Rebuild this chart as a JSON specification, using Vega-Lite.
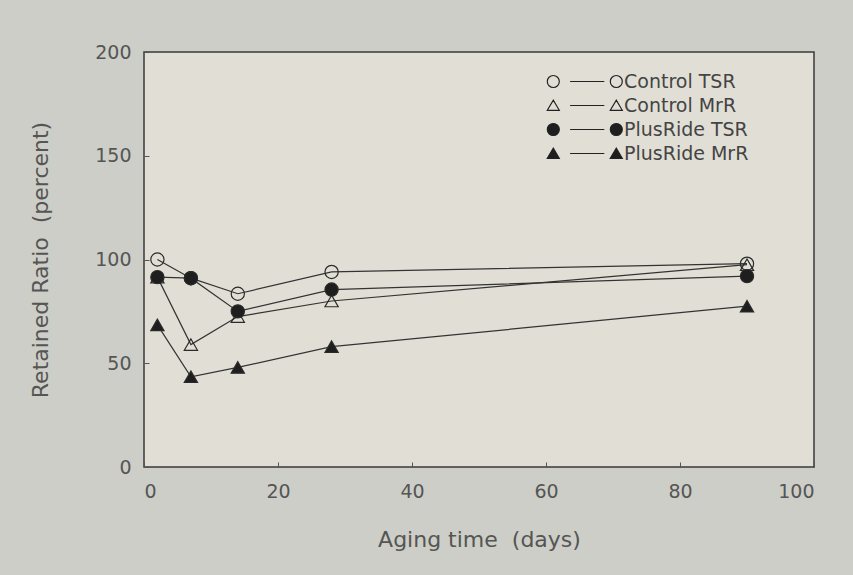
{
  "$schema": "https://vega.github.io/schema/vega-lite/v6.json",
  "width": 670,
  "height": 415,
  "autosize": {"type": "none"},
  "padding": {"left": 144, "top": 52, "right": 39, "bottom": 108},
  "background": "#cdcec7",
  "config": {
    "view": {"fill": "#e1dfd5", "stroke": "#3a3a3a", "strokeWidth": 1.5},
    "font": "DejaVu Sans",
    "axis": {
      "grid": false,
      "domain": false,
      "ticks": true,
      "tickSize": -5,
      "tickColor": "#555",
      "labelFont": "DejaVu Sans",
      "labelFontSize": 19,
      "labelColor": "#555",
      "titleFont": "DejaVu Sans",
      "titleFontSize": 22,
      "titleFontWeight": "normal",
      "titleColor": "#555"
    },
    "legend": {
      "title": null,
      "orient": "none",
      "legendX": 431,
      "legendY": 20,
      "labelFont": "DejaVu Sans",
      "labelFontSize": 19,
      "labelColor": "#444",
      "labelOffset": 30,
      "rowPadding": 4,
      "symbolSize": 144,
      "symbolStrokeWidth": 1.2,
      "symbolOpacity": 1
    }
  },
  "data": {
    "values": [
      {"series": "Control TSR", "day": 2, "value": 100},
      {"series": "Control TSR", "day": 7, "value": 91},
      {"series": "Control TSR", "day": 14, "value": 83.5},
      {"series": "Control TSR", "day": 28, "value": 94},
      {"series": "Control TSR", "day": 90, "value": 98},
      {"series": "Control MrR", "day": 2, "value": 91.5},
      {"series": "Control MrR", "day": 7, "value": 59},
      {"series": "Control MrR", "day": 14, "value": 72.5},
      {"series": "Control MrR", "day": 28, "value": 80},
      {"series": "Control MrR", "day": 90, "value": 97.5},
      {"series": "PlusRide TSR", "day": 2, "value": 91.5},
      {"series": "PlusRide TSR", "day": 7, "value": 91},
      {"series": "PlusRide TSR", "day": 14, "value": 75},
      {"series": "PlusRide TSR", "day": 28, "value": 85.5},
      {"series": "PlusRide TSR", "day": 90, "value": 92},
      {"series": "PlusRide MrR", "day": 2, "value": 68.5},
      {"series": "PlusRide MrR", "day": 7, "value": 43.5},
      {"series": "PlusRide MrR", "day": 14, "value": 48},
      {"series": "PlusRide MrR", "day": 28, "value": 58},
      {"series": "PlusRide MrR", "day": 90, "value": 77.5}
    ]
  },
  "encoding": {
    "x": {
      "field": "day", "type": "quantitative",
      "scale": {"domain": [0, 100], "nice": false, "zero": false},
      "axis": {"values": [0, 20, 40, 60, 80, 100], "labelPadding": 20, "title": "Aging time\u00a0 (days)", "titlePadding": 28}
    },
    "y": {
      "field": "value", "type": "quantitative",
      "scale": {"domain": [0, 200], "nice": false},
      "axis": {"values": [0, 50, 100, 150, 200], "labelPadding": 18, "title": "Retained Ratio\u00a0 (percent)", "titlePadding": 42}
    }
  },
  "layer": [
    {
      "mark": {"type": "line", "color": "#333", "strokeWidth": 1.2},
      "encoding": {"detail": {"field": "series"}}
    },
    {
      "mark": {"type": "point", "size": 175, "strokeWidth": 1.2, "opacity": 1},
      "encoding": {
        "shape": {
          "field": "series", "type": "nominal",
          "scale": {"domain": ["Control TSR", "Control MrR", "PlusRide TSR", "PlusRide MrR"], "range": ["circle", "triangle-up", "circle", "triangle-up"]},
          "legend": null
        },
        "fill": {
          "field": "series", "type": "nominal",
          "scale": {"domain": ["Control TSR", "Control MrR", "PlusRide TSR", "PlusRide MrR"], "range": ["transparent", "transparent", "#1e1e1e", "#1e1e1e"]},
          "legend": null
        },
        "stroke": {"value": "#2a2a2a"}
      }
    },
    {
      "transform": [{"filter": "datum.day < 0"}],
      "mark": {"type": "point", "size": 144, "strokeWidth": 1.2, "opacity": 1},
      "encoding": {
        "shape": {
          "field": "series", "type": "nominal",
          "scale": {
            "domain": ["Control TSR", "Control MrR", "PlusRide TSR", "PlusRide MrR"],
            "range": [
              "M-6.2,0 A1,1 0 1,0 -4.2,0 A1,1 0 1,0 -6.2,0 M-2.4,0 L3.3,0 M4.3,0 A1,1 0 1,0 6.3,0 A1,1 0 1,0 4.3,0",
              "M-6.2,0.8 L-5.2,-0.9 L-4.2,0.8 Z M-2.4,0 L3.3,0 M4.3,0.8 L5.3,-0.9 L6.3,0.8 Z",
              "M-6.2,0 A1,1 0 1,0 -4.2,0 A1,1 0 1,0 -6.2,0 M-2.4,0 L3.3,0 M4.3,0 A1,1 0 1,0 6.3,0 A1,1 0 1,0 4.3,0",
              "M-6.2,0.8 L-5.2,-0.9 L-4.2,0.8 Z M-2.4,0 L3.3,0 M4.3,0.8 L5.3,-0.9 L6.3,0.8 Z"
            ]
          },
          "legend": {}
        },
        "fill": {
          "field": "series", "type": "nominal",
          "scale": {"domain": ["Control TSR", "Control MrR", "PlusRide TSR", "PlusRide MrR"], "range": ["transparent", "transparent", "#1e1e1e", "#1e1e1e"]},
          "legend": {}
        },
        "stroke": {
          "field": "series", "type": "nominal",
          "scale": {"domain": ["Control TSR", "Control MrR", "PlusRide TSR", "PlusRide MrR"], "range": ["#222", "#222", "#222", "#222"]},
          "legend": {}
        }
      }
    }
  ],
  "resolve": {
    "scale": {"shape": "independent", "fill": "independent", "stroke": "independent"},
    "legend": {"shape": "independent", "fill": "independent", "stroke": "independent"}
  }
}
